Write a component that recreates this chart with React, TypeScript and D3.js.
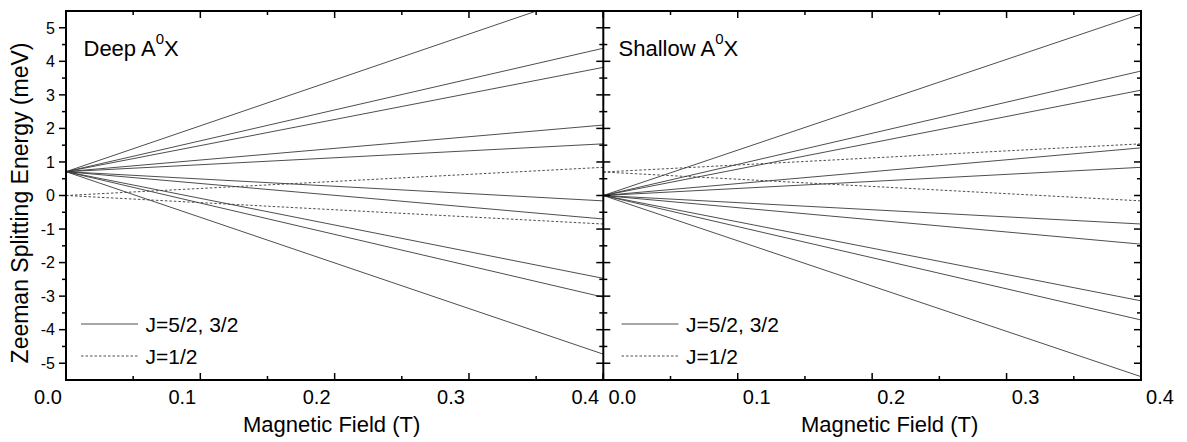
import React from "react";
import * as d3 from "d3";

// ---- data ----
const fieldDomain = [0, 0.4];
const energyDomain = [-5.5, 5.5];
const xTickValues = [0, 0.1, 0.2, 0.3, 0.4];
const xTickLabels = ["0.0", "0.1", "0.2", "0.3", "0.4"];
const yTickValues = [-5, -4, -3, -2, -1, 0, 1, 2, 3, 4, 5];

// Deep A0X: energies at B = 0 and at B = 0.4 T
const deepJ53Start = 0.71;
const deepJ53End = [6.18, 4.39, 3.82, 2.1, 1.54, -0.16, -0.7, -2.47, -3.03, -4.73];
const deepJ12Start = 0.0;
const deepJ12End = [0.84, -0.85];

// Shallow A0X
const shallowJ53Start = 0.0;
const shallowJ53End = [5.41, 3.71, 3.14, 1.42, 0.84, -0.85, -1.45, -3.14, -3.71, -5.4];
const shallowJ12Start = 0.7;
const shallowJ12End = [1.54, -0.16];

const panelTitles = ["Deep A", "Shallow A"];
const legendLabels = ["J=5/2, 3/2", "J=1/2"];

const FONT = "Arial, 'Liberation Sans', Helvetica, sans-serif";

const W = 1187;
const H = 442;
const top = 11;
const bottom = 380;
const x0 = 66;
const xm = 603.3;
const x1 = 1141;

const y = d3.scaleLinear().domain(energyDomain).range([bottom, top]);

type PanelProps = {
  idx: number;
  x: d3.ScaleLinear<number, number>;
  solidStart: number;
  solidEnd: number[];
  dashStart: number;
  dashEnd: number[];
  title: string;
  titleX: number;
  legendX: number;
  labelShift: number;
  xTitleX: number;
};

const lineGen = (x: d3.ScaleLinear<number, number>) =>
  d3
    .line<[number, number]>()
    .x((d) => x(d[0]))
    .y((d) => y(d[1]));

function Panel(p: PanelProps) {
  const lg = lineGen(p.x);
  const B0 = fieldDomain[0];
  const B1 = fieldDomain[1];
  const clipId = `clip-${p.idx}`;
  const [r0, r1] = p.x.range();
  const minorX = d3.range(0.05, 0.4, 0.1);
  return (
    <g>
      <defs>
        <clipPath id={clipId}>
          <rect x={r0} y={top} width={r1 - r0} height={bottom - top} />
        </clipPath>
      </defs>
      <g clipPath={`url(#${clipId})`}>
        {p.solidEnd.map((e, i) => (
          <path
            key={"s" + i}
            d={lg([
              [B0, p.solidStart],
              [B1, e],
            ]) as string}
            fill="none"
            stroke="#3a3a3a"
            strokeWidth={0.9}
          />
        ))}
        {p.dashEnd.map((e, i) => (
          <path
            key={"d" + i}
            d={lg([
              [B0, p.dashStart],
              [B1, e],
            ]) as string}
            fill="none"
            stroke="#3a3a3a"
            strokeWidth={0.9}
            strokeDasharray="2.5,2"
          />
        ))}
      </g>
      {/* x ticks: bottom and top, inward */}
      {xTickValues.map((v) => (
        <g key={"xt" + v}>
          <line x1={p.x(v)} x2={p.x(v)} y1={bottom} y2={bottom - 7} stroke="#000" strokeWidth={1.5} />
          <line x1={p.x(v)} x2={p.x(v)} y1={top} y2={top + 7} stroke="#000" strokeWidth={1.5} />
        </g>
      ))}
      {minorX.map((v) => (
        <g key={"xm" + v}>
          <line x1={p.x(v)} x2={p.x(v)} y1={bottom} y2={bottom - 4} stroke="#000" strokeWidth={1.5} />
          <line x1={p.x(v)} x2={p.x(v)} y1={top} y2={top + 4} stroke="#000" strokeWidth={1.5} />
        </g>
      ))}
      {xTickValues.map((v, i) => (
        <text
          key={"xl" + v}
          x={p.x(v) + p.labelShift}
          y={404}
          textAnchor="middle"
          fontFamily={FONT}
          fontSize={20}
          fill="#000"
        >
          {xTickLabels[i]}
        </text>
      ))}
      <text x={p.xTitleX} y={432} fontFamily={FONT} fontSize={22} fill="#000">
        Magnetic Field (T)
      </text>
      <text x={p.titleX} y={55.5} fontFamily={FONT} fontSize={22} fill="#000">
        {p.title}
        <tspan fontSize={15} dy={-12}>
          0
        </tspan>
        <tspan dy={12}>X</tspan>
      </text>
      {/* legend */}
      <line x1={p.legendX} x2={p.legendX + 57} y1={324} y2={324} stroke="#3a3a3a" strokeWidth={0.9} />
      <text x={p.legendX + 64.5} y={331.5} fontFamily={FONT} fontSize={21} fill="#000">
        {legendLabels[0]}
      </text>
      <line
        x1={p.legendX}
        x2={p.legendX + 57}
        y1={356}
        y2={356}
        stroke="#3a3a3a"
        strokeWidth={0.9}
        strokeDasharray="2.5,2"
      />
      <text x={p.legendX + 64.5} y={363.5} fontFamily={FONT} fontSize={21} fill="#000">
        {legendLabels[1]}
      </text>
    </g>
  );
}

export default function App() {
  const xL = d3.scaleLinear().domain(fieldDomain).range([x0, xm]);
  const xR = d3.scaleLinear().domain(fieldDomain).range([xm, x1]);
  const minorY = d3.range(-4.5, 5.5, 1);
  return (
    <svg
      width={W}
      height={H}
      style={{ position: "absolute", left: 0, top: 0, background: "#fff" }}
    >
      <rect x={0} y={0} width={W} height={H} fill="#fff" />
      <Panel
        idx={0}
        x={xL}
        solidStart={deepJ53Start}
        solidEnd={deepJ53End}
        dashStart={deepJ12Start}
        dashEnd={deepJ12End}
        title={panelTitles[0]}
        titleX={83.5}
        legendX={81}
        labelShift={-18}
        xTitleX={243}
      />
      <Panel
        idx={1}
        x={xR}
        solidStart={shallowJ53Start}
        solidEnd={shallowJ53End}
        dashStart={shallowJ12Start}
        dashEnd={shallowJ12End}
        title={panelTitles[1]}
        titleX={618.5}
        legendX={621.5}
        labelShift={19}
        xTitleX={801}
      />
      {/* y ticks */}
      {yTickValues.map((v) => (
        <g key={"yt" + v}>
          <line x1={x0 - 7} x2={x0} y1={y(v)} y2={y(v)} stroke="#000" strokeWidth={1.5} />
          <line x1={xm - 7} x2={xm + 7} y1={y(v)} y2={y(v)} stroke="#000" strokeWidth={1.5} />
          <line x1={x1 - 7} x2={x1} y1={y(v)} y2={y(v)} stroke="#000" strokeWidth={1.5} />
          <text
            x={55}
            y={y(v)}
            dy="0.36em"
            textAnchor="end"
            fontFamily={FONT}
            fontSize={16}
            fill="#000"
          >
            {v}
          </text>
        </g>
      ))}
      {minorY.map((v) => (
        <g key={"ym" + v}>
          <line x1={x0 - 4} x2={x0} y1={y(v)} y2={y(v)} stroke="#000" strokeWidth={1.5} />
          <line x1={xm - 4} x2={xm + 4} y1={y(v)} y2={y(v)} stroke="#000" strokeWidth={1.5} />
          <line x1={x1 - 4} x2={x1} y1={y(v)} y2={y(v)} stroke="#000" strokeWidth={1.5} />
        </g>
      ))}
      {/* frames */}
      <rect x={x0} y={top} width={x1 - x0} height={bottom - top} fill="none" stroke="#000" strokeWidth={2} />
      <line x1={xm} x2={xm} y1={top} y2={bottom} stroke="#000" strokeWidth={2} />
      <text
        transform={`translate(28,203) rotate(-90)`}
        textAnchor="middle"
        fontFamily={FONT}
        fontSize={23}
        fill="#000"
      >
        Zeeman Splitting Energy (meV)
      </text>
    </svg>
  );
}
